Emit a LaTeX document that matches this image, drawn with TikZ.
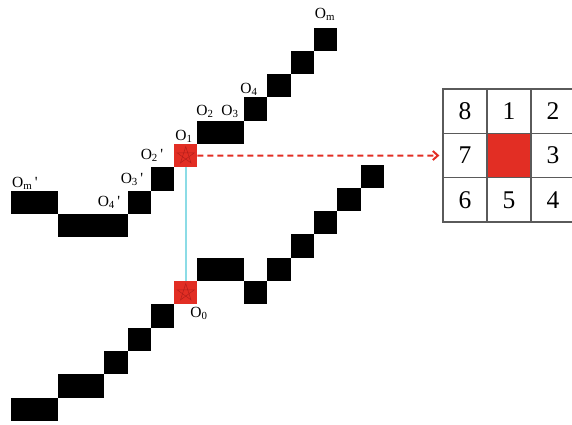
\documentclass[tikz,border=0pt]{standalone}
\usepackage{fontspec}
\setmainfont{Liberation Serif}
\usetikzlibrary{arrows.meta}
\definecolor{bred}{RGB}{226,46,36}
\definecolor{dred}{RGB}{150,20,20}
\definecolor{lcyan}{RGB}{140,220,230}
\definecolor{gridgray}{RGB}{90,90,90}
\newcommand{\blkU}[4]{\node[blk, minimum width=#4*23.3pt] (#1) at ({11+23.3*#2},{144+23.3*#3}) {};}
\newcommand{\blkL}[4]{\node[blk, minimum width=#4*23.3pt] (#1) at ({11+23.3*#2},{281+23.3*#3}) {};}
\begin{document}
\begin{tikzpicture}[x=1pt,y=-1pt,
  blk/.style={fill=black, inner sep=0pt, outer sep=0pt, anchor=north west, minimum height=23.3pt},
  redsq/.style={fill=bred, inner sep=0pt, outer sep=0pt, anchor=north west, minimum width=23.3pt, minimum height=23.3pt},
  starline/.style={draw=dred, line width=0.5pt, opacity=0.6},
  lbl/.style={anchor=base, inner sep=0pt, font=\fontsize{15.5}{15.5}\selectfont},
  cell/.style={draw=gridgray, line width=1.3pt, minimum width=44pt, minimum height=44.3pt, inner sep=0pt, font=\fontsize{25.5}{25.5}\selectfont},
  redarrow/.style={draw=bred, line width=2pt, dash pattern=on 6pt off 4pt, -{Straight Barb[length=5pt,width=9pt]}},
  cyanline/.style={draw=lcyan, line width=2pt}]
\useasboundingbox (0,0) rectangle (572,424);
\clip (0,0) rectangle (572,424);
% upper chain
\blkU{u1}{0}{2}{2}
\blkU{u2}{2}{3}{3}
\blkU{u3}{5}{2}{1}
\blkU{u4}{6}{1}{1}
\node[redsq] (o1) at ({11+23.3*7},144) {};
\blkU{u5}{8}{-1}{2}
\blkU{u6}{10}{-2}{1}
\blkU{u7}{11}{-3}{1}
\blkU{u8}{12}{-4}{1}
\blkU{u9}{13}{-5}{1}
% lower chain
\blkL{l1}{0}{5}{2}
\blkL{l2}{2}{4}{2}
\blkL{l3}{4}{3}{1}
\blkL{l4}{5}{2}{1}
\blkL{l5}{6}{1}{1}
\node[redsq] (o0) at ({11+23.3*7},281) {};
\blkL{l6}{8}{-1}{2}
\blkL{l7}{10}{0}{1}
\blkL{l8}{11}{-1}{1}
\blkL{l9}{12}{-2}{1}
\blkL{l10}{13}{-3}{1}
\blkL{l11}{14}{-4}{1}
\blkL{l12}{15}{-5}{1}
% stars in red squares
\draw[starline, shift={(o1.center)}] (-90:9) -- (54:9) -- (198:9) -- (-18:9) -- (126:9) -- cycle;
\draw[starline, shift={(o0.center)}] (-90:9) -- (54:9) -- (198:9) -- (-18:9) -- (126:9) -- cycle;
% cyan link
\draw[cyanline] (o1.south) -- (o0.north);
% labels
\node[lbl] (lm) at (325,18.3) {O\textsubscript{m}};
\node[lbl] (l4) at (249,93) {O\textsubscript{4}};
\node[lbl] (l2) at (205,115) {O\textsubscript{2}};
\node[lbl] (l3) at (230,115) {O\textsubscript{3}};
\node[lbl] (l1) at (184,140) {O\textsubscript{1}};
\node[lbl] (l2p) at (152,159) {O\textsubscript{2}\,\textquotesingle};
\node[lbl] (l3p) at (132,183) {O\textsubscript{3}\,\textquotesingle};
\node[lbl] (l4p) at (109,206) {O\textsubscript{4}\,\textquotesingle};
\node[lbl] (lmp) at (25,187) {O\textsubscript{m}\,\textquotesingle};
\node[lbl] (l0) at (199,317) {O\textsubscript{0}};
% neighbourhood table
\node[cell] (t8) at (465,111.2) {8};
\node[cell] (t1) at (509,111.2) {1};
\node[cell] (t2) at (553,111.2) {2};
\node[cell] (t7) at (465,155.5) {7};
\node[cell, fill=bred] (tc) at (509,155.5) {};
\node[cell] (t3) at (553,155.5) {3};
\node[cell] (t6) at (465,199.8) {6};
\node[cell] (t5) at (509,199.8) {5};
\node[cell] (t4) at (553,199.8) {4};
% arrow
\draw[redarrow] (o1.east) -- ([xshift=-3pt]t7.west);
\end{tikzpicture}
\end{document}
